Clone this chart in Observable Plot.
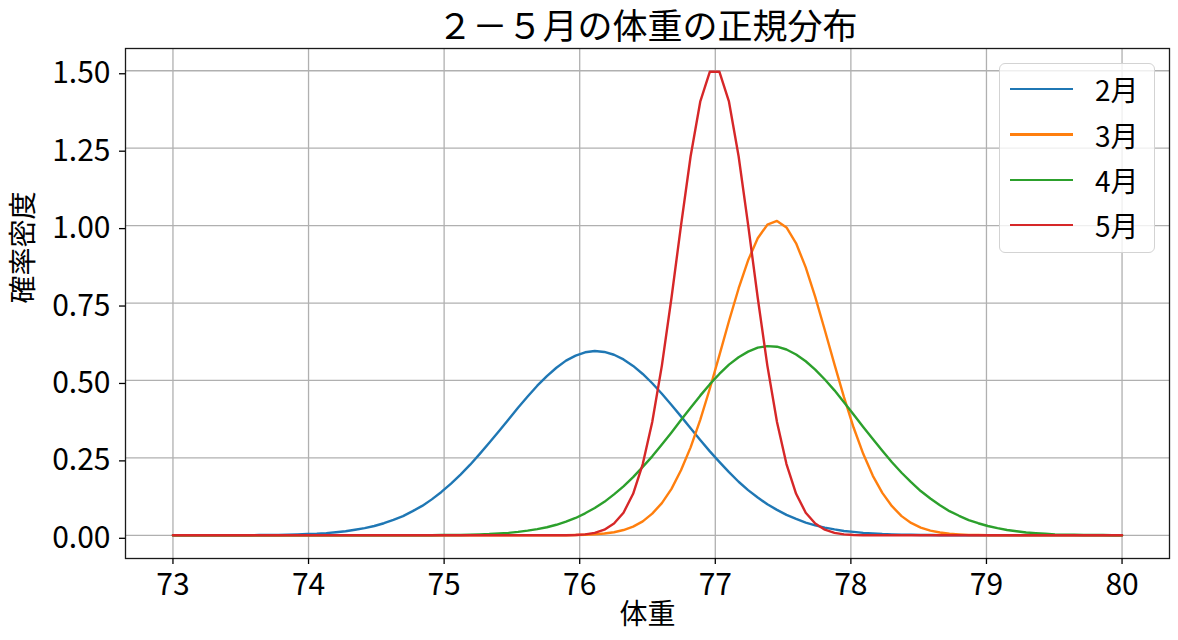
<!DOCTYPE html>
<html>
<head>
<meta charset="utf-8">
<script src="https://cdn.jsdelivr.net/npm/d3@7"></script>
<script src="https://cdn.jsdelivr.net/npm/@observablehq/plot@0.6"></script>
<style>
  body { margin: 0; background: #fff; }
  #wrap { position: relative; width: 1178px; height: 640px; font-family: 'Noto Sans CJK JP', sans-serif; }
  #legend { position: absolute; left: 999px; top: 63px; width: 156px; height: 190px; box-sizing: border-box;
            border: 1.3px solid #d3d3d3; border-radius: 6px; background: rgba(255,255,255,0.8); }
  .row { position: absolute; left: 0; height: 46px; display: flex; align-items: center; }
  .sw { margin-left: 10px; width: 63px; height: 2.4px; }
  .lb { margin-left: 22px; font-size: 28px; line-height: 1; color: #000; }
</style>
</head>
<body>
<div id="wrap"></div>
<script>
const title = "２－５月の体重の正規分布";
const xLabel = "体重";
const yLabel = "確率密度";
const months = ["2月", "3月", "4月", "5月"];
const colors = ["#1f77b4", "#ff7f0e", "#2ca02c", "#d62728"];
const xTicks = [73, 74, 75, 76, 77, 78, 79, 80];
const yTicks = [0, 0.25, 0.5, 0.75, 1.0, 1.25, 1.5];

const xs = [
  73.000, 73.071, 73.141, 73.212, 73.283, 73.354, 73.424, 73.495, 73.566, 73.636,
  73.707, 73.778, 73.848, 73.919, 73.990, 74.061, 74.131, 74.202, 74.273, 74.343,
  74.414, 74.485, 74.556, 74.626, 74.697, 74.768, 74.838, 74.909, 74.980, 75.051,
  75.121, 75.192, 75.263, 75.333, 75.404, 75.475, 75.545, 75.616, 75.687, 75.758,
  75.828, 75.899, 75.970, 76.040, 76.111, 76.182, 76.253, 76.323, 76.394, 76.465,
  76.535, 76.606, 76.677, 76.747, 76.818, 76.889, 76.960, 77.030, 77.101, 77.172,
  77.242, 77.313, 77.384, 77.455, 77.525, 77.596, 77.667, 77.737, 77.808, 77.879,
  77.949, 78.020, 78.091, 78.162, 78.232, 78.303, 78.374, 78.444, 78.515, 78.586,
  78.657, 78.727, 78.798, 78.869, 78.939, 79.010, 79.081, 79.152, 79.222, 79.293,
  79.364, 79.434, 79.505, 79.576, 79.646, 79.717, 79.788, 79.859, 79.929, 80.000
];

const feb = [
  0, 0, 0, 0, 0, 0, 0, 0, 0, 0.001,
  0.001, 0.001, 0.002, 0.003, 0.004, 0.005, 0.007, 0.010, 0.013, 0.018,
  0.023, 0.030, 0.039, 0.050, 0.062, 0.078, 0.095, 0.116, 0.140, 0.167,
  0.196, 0.228, 0.263, 0.299, 0.336, 0.374, 0.412, 0.448, 0.483, 0.514,
  0.541, 0.564, 0.580, 0.591, 0.595, 0.592, 0.583, 0.568, 0.547, 0.521,
  0.491, 0.457, 0.421, 0.384, 0.346, 0.308, 0.271, 0.237, 0.204, 0.173,
  0.146, 0.122, 0.100, 0.082, 0.066, 0.053, 0.041, 0.032, 0.025, 0.019,
  0.014, 0.011, 0.008, 0.006, 0.004, 0.003, 0.002, 0.002, 0.001, 0.001,
  0, 0, 0, 0, 0, 0, 0, 0, 0, 0,
  0, 0, 0, 0, 0, 0, 0, 0, 0, 0
];

const mar = [
  0, 0, 0, 0, 0, 0, 0, 0, 0, 0,
  0, 0, 0, 0, 0, 0, 0, 0, 0, 0,
  0, 0, 0, 0, 0, 0, 0, 0, 0, 0,
  0, 0, 0, 0, 0, 0, 0, 0, 0, 0,
  0, 0, 0.001, 0.002, 0.003, 0.006, 0.010, 0.017, 0.028, 0.045,
  0.070, 0.104, 0.150, 0.210, 0.284, 0.373, 0.474, 0.581, 0.692, 0.797,
  0.888, 0.959, 1.003, 1.015, 0.994, 0.943, 0.865, 0.770, 0.662, 0.552,
  0.446, 0.348, 0.263, 0.192, 0.137, 0.094, 0.062, 0.040, 0.025, 0.015,
  0.009, 0.005, 0.003, 0.001, 0.001, 0, 0, 0, 0, 0,
  0, 0, 0, 0, 0, 0, 0, 0, 0, 0
];

const apr = [
  0, 0, 0, 0, 0, 0, 0, 0, 0, 0,
  0, 0, 0, 0, 0, 0, 0, 0, 0, 0,
  0, 0, 0, 0, 0, 0, 0, 0, 0.001, 0.001,
  0.001, 0.002, 0.003, 0.004, 0.006, 0.008, 0.011, 0.015, 0.020, 0.026,
  0.034, 0.044, 0.056, 0.071, 0.088, 0.108, 0.132, 0.158, 0.188, 0.221,
  0.255, 0.293, 0.332, 0.372, 0.412, 0.451, 0.488, 0.521, 0.551, 0.575,
  0.593, 0.606, 0.611, 0.609, 0.600, 0.584, 0.562, 0.535, 0.503, 0.468,
  0.430, 0.390, 0.350, 0.311, 0.273, 0.236, 0.202, 0.172, 0.143, 0.119,
  0.097, 0.078, 0.063, 0.049, 0.039, 0.030, 0.023, 0.017, 0.013, 0.009,
  0.007, 0.005, 0.003, 0.002, 0.002, 0.001, 0.001, 0.001, 0, 0
];

const may = [
  0, 0, 0, 0, 0, 0, 0, 0, 0, 0,
  0, 0, 0, 0, 0, 0, 0, 0, 0, 0,
  0, 0, 0, 0, 0, 0, 0, 0, 0, 0,
  0, 0, 0, 0, 0, 0, 0, 0, 0, 0,
  0, 0, 0.001, 0.003, 0.008, 0.018, 0.038, 0.073, 0.134, 0.230,
  0.366, 0.548, 0.767, 1.000, 1.224, 1.400, 1.497, 1.497, 1.400, 1.224,
  1.003, 0.767, 0.548, 0.366, 0.230, 0.134, 0.073, 0.038, 0.018, 0.008,
  0.003, 0.001, 0, 0, 0, 0, 0, 0, 0, 0,
  0, 0, 0, 0, 0, 0, 0, 0, 0, 0,
  0, 0, 0, 0, 0, 0, 0, 0, 0, 0
];

const seriesValues = [feb, mar, apr, may];
const data = months.flatMap((m, k) => xs.map((x, i) => ({month: m, x, y: seriesValues[k][i]})));

const plot = Plot.plot({
  width: 1178,
  height: 640,
  marginLeft: 125,
  marginRight: 9,
  marginTop: 48,
  marginBottom: 82,
  style: {fontFamily: "'Noto Sans CJK JP', sans-serif", background: "white", color: "black", overflow: "visible"},
  x: {domain: [72.65, 80.35]},
  y: {domain: [-0.0749, 1.5719]},
  color: {domain: months, range: colors},
  marks: [
    Plot.gridX(xTicks, {stroke: "#b0b0b0", strokeOpacity: 1, strokeWidth: 1.3}),
    Plot.gridY(yTicks, {stroke: "#b0b0b0", strokeOpacity: 1, strokeWidth: 1.3}),
    Plot.line(data, {x: "x", y: "y", z: "month", stroke: "month", strokeWidth: 2.4}),
    Plot.frame({stroke: "#1a1a1a", strokeWidth: 1.3}),
    Plot.axisX(xTicks, {tickSize: 6, tickPadding: 9, fontSize: 30, label: null, tickFormat: d => String(d), strokeWidth: 1.3}),
    Plot.axisY(yTicks, {tickSize: 6, tickPadding: 9, fontSize: 30, label: null, tickFormat: d => d.toFixed(2), dy: 3, strokeWidth: 1.3}),
    Plot.text([title], {frameAnchor: "top", dy: -34, fontSize: 35, text: d => d}),
    Plot.text([xLabel], {frameAnchor: "bottom", dy: 65, fontSize: 28, text: d => d}),
    Plot.text([yLabel], {frameAnchor: "left", dx: -101, rotate: -90, fontSize: 28, text: d => d})
  ]
});

const wrap = document.getElementById("wrap");
wrap.appendChild(plot);

const legend = document.createElement("div");
legend.id = "legend";
months.forEach((m, k) => {
  const row = document.createElement("div");
  row.className = "row";
  row.style.top = (2.3 + k * 45.3) + "px";
  const sw = document.createElement("div");
  sw.className = "sw";
  sw.style.background = colors[k];
  const lb = document.createElement("span");
  lb.className = "lb";
  lb.textContent = m;
  row.appendChild(sw);
  row.appendChild(lb);
  legend.appendChild(row);
});
wrap.appendChild(legend);
</script>
</body>
</html>
